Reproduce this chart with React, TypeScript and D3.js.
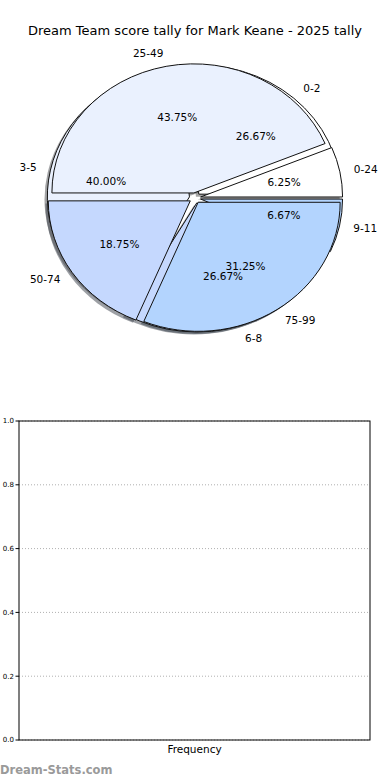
import * as d3 from 'd3';

// outer pie (drawn on top)
const tallyLabels = ['0-24', '25-49', '50-74', '75-99'];
const tallyCounts = [1, 7, 3, 5];

// inner pie (drawn underneath)
const scoreLabels = ['0-2', '3-5', '6-8', '9-11'];
const scoreCounts = [4, 6, 4, 1];

const wedgeColors = ['#ffffff', '#eaf1fe', '#c5d8fe', '#b3d4fe'];

const yTicks = [0, 0.2, 0.4, 0.6, 0.8, 1.0];

const W = 390;
const H = 780;
const font = 'DejaVu Sans, sans-serif';

// pie geometry (ellipse, matplotlib axes are not equal aspect)
const cx = 195;
const cy = 198;
const rx = 142;
const ry = 129;
const explode = 0.04;

type Slice = { label: string; value: number; color: string };

const shade = (c: string) => {
  const rgb = d3.rgb(c);
  return d3.rgb(rgb.r * 0.3, rgb.g * 0.3, rgb.b * 0.3).toString();
};

const makeSlices = (labels: string[], counts: number[]) =>
  labels.map((label, i) => ({ label, value: counts[i], color: wedgeColors[i] }));

// counterclockwise from 3 o'clock, like matplotlib
const pieLayout = d3
  .pie<Slice>()
  .sort(null)
  .value((d) => d.value)
  .startAngle(Math.PI / 2)
  .endAngle(Math.PI / 2 - 2 * Math.PI);

const unitArc = d3.arc<d3.PieArcDatum<Slice>>().innerRadius(0).outerRadius(1);

const pct = d3.format('.2f');

type Part = 'shadow' | 'wedge' | 'text';

function Pie({ labels, counts, part }: { labels: string[]; counts: number[]; part: Part }) {
  const slices = makeSlices(labels, counts);
  const total = d3.sum(counts);
  const arcs = pieLayout(slices);
  return (
    <g>
      {arcs.map((a, i) => {
        const mid = (a.startAngle + a.endAngle) / 2;
        const ux = Math.sin(mid);
        const uy = -Math.cos(mid);
        const ox = cx + explode * rx * ux;
        const oy = cy + explode * ry * uy;
        if (part === 'shadow') {
          return (
            <path
              key={i}
              d={unitArc(a) || ''}
              transform={`translate(${ox - 0.02 * rx},${oy + 0.02 * ry}) scale(${rx},${ry})`}
              fill={shade(a.data.color)}
              fillOpacity={0.5}
            />
          );
        }
        if (part === 'wedge') {
          return (
            <path
              key={i}
              d={unitArc(a) || ''}
              transform={`translate(${ox},${oy}) scale(${rx},${ry})`}
              fill={a.data.color}
              stroke="#111"
              strokeWidth={1}
              vectorEffect="non-scaling-stroke"
            />
          );
        }
        return (
          <g key={i}>
            <text
              x={ox + 1.1 * rx * ux}
              y={oy + 1.1 * ry * uy}
              dy="0.35em"
              textAnchor={ux > 0 ? 'start' : 'end'}
              fontSize={10.5}
            >
              {a.data.label}
            </text>
            <text
              x={ox + 0.6 * rx * ux}
              y={oy + 0.6 * ry * uy}
              dy="0.35em"
              textAnchor="middle"
              fontSize={10.5}
            >
              {pct((a.data.value / total) * 100)}%
            </text>
          </g>
        );
      })}
    </g>
  );
}

export default function App() {
  const left = 19;
  const right = 370;
  const top = 421;
  const bottom = 740;
  const y = d3.scaleLinear().domain([0, 1]).range([bottom, top]);

  return (
    <div style={{ position: 'absolute', left: 0, top: 0 }}>
      <svg width={W} height={H} style={{ display: 'block', fontFamily: font }}>
        <rect width={W} height={H} fill="#fff" />
        <text x={195} y={30} dy="0.35em" textAnchor="middle" fontSize={13}>
          Dream Team score tally for Mark Keane - 2025 tally
        </text>

        {/* shadows under every wedge, texts over everything */}
        <Pie labels={scoreLabels} counts={scoreCounts} part="shadow" />
        <Pie labels={tallyLabels} counts={tallyCounts} part="shadow" />
        <Pie labels={scoreLabels} counts={scoreCounts} part="wedge" />
        <Pie labels={tallyLabels} counts={tallyCounts} part="wedge" />
        <Pie labels={scoreLabels} counts={scoreCounts} part="text" />
        <Pie labels={tallyLabels} counts={tallyCounts} part="text" />

        {/* empty frequency axes */}
        {yTicks.map((t) => (
          <g key={t}>
            <line
              x1={left}
              x2={right}
              y1={y(t)}
              y2={y(t)}
              stroke="#b0b0b0"
              strokeDasharray="1,2"
            />
            <line x1={left - 3.5} x2={left} y1={y(t)} y2={y(t)} stroke="#000" />
            <text x={left - 5} y={y(t)} dy="0.35em" textAnchor="end" fontSize={7}>
              {d3.format('.1f')(t)}
            </text>
          </g>
        ))}
        <rect
          x={left}
          y={top}
          width={right - left}
          height={bottom - top}
          fill="none"
          stroke="#000"
          strokeWidth={1}
        />
        <text x={(left + right) / 2} y={749} dy="0.35em" textAnchor="middle" fontSize={10.5}>
          Frequency
        </text>

        <text x={0} y={770} dy="0.35em" fontSize={11.5} fontWeight="bold" fill="#9a9a9a">
          Dream-Stats.com
        </text>
      </svg>
    </div>
  );
}
